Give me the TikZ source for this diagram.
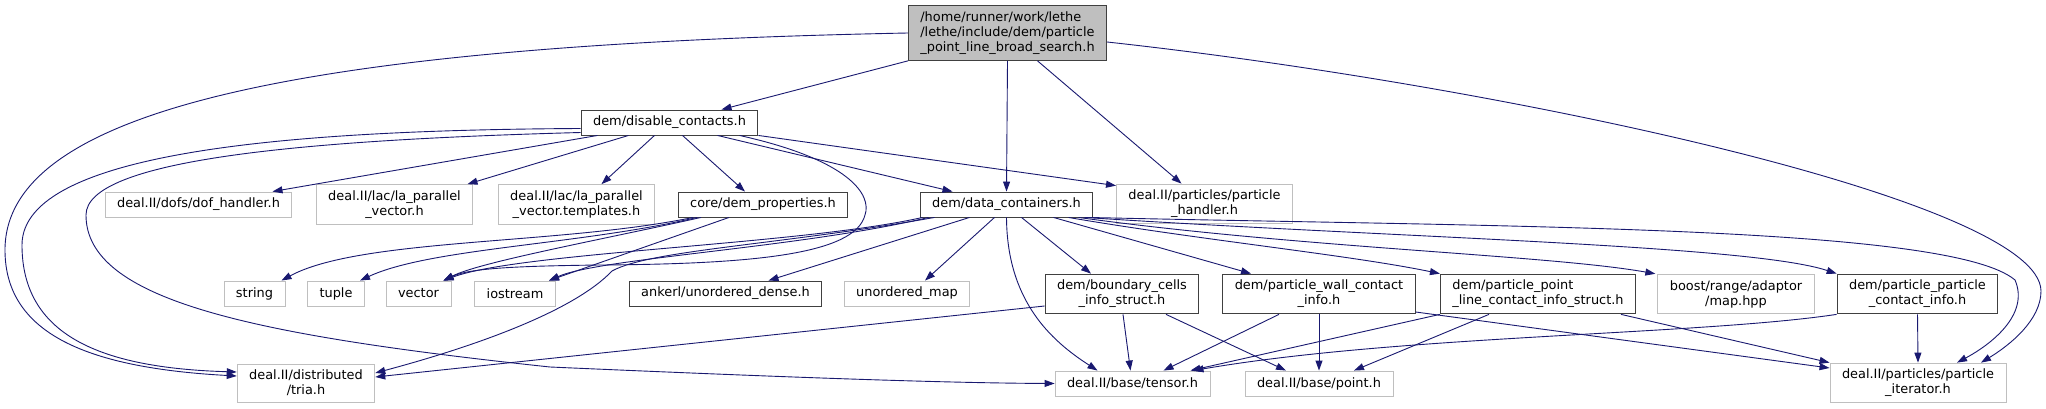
\documentclass[tikz,border=0pt]{standalone}
\usepackage{fontspec}
\setmainfont{DejaVu Sans}
\usetikzlibrary{arrows.meta}

\definecolor{edgeblue}{HTML}{191970}
\definecolor{incline}{HTML}{404040}
\definecolor{extline}{HTML}{BFBFBF}
\definecolor{rootfill}{HTML}{BFBFBF}

\begin{document}
\begin{tikzpicture}[
x=1pt, y=-1pt,
inc/.style={rectangle, draw=incline, fill=white, line width=0.9pt, align=center,
  font=\fontsize{12.9pt}{15pt}\selectfont, inner xsep=12pt, inner ysep=6pt, minimum height=25pt},
ext/.style={inc, draw=extline},
main/.style={inc, fill=rootfill, align=left},
incl/.style={draw=edgeblue, line width=0.9pt, -{Triangle[length=10pt,width=7pt]}}
]
\fill[white] (0,0) rectangle (2046,409);
\useasboundingbox (0,0) rectangle (2046,409);

% top
\node[main] (root) at (1007.5,33) {/home/runner/work/lethe\\/lethe/include/dem/particle\\\_point\_line\_broad\_search.h};
\node[inc] (disable) at (669.5,122.5) {dem/disable\_contacts.h};

% second row
\node[ext] (dofh) at (198.5,204.5) {deal.II/dofs/dof\_handler.h};
\node[ext] (lapv) at (394.5,204.5) {deal.II/lac/la\_parallel\\\_vector.h};
\node[ext] (lapvt) at (576.5,204.5) {deal.II/lac/la\_parallel\\\_vector.templates.h};
\node[inc] (demprop) at (763,204.5) {core/dem\_properties.h};
\node[inc] (datacont) at (1006.5,204.5) {dem/data\_containers.h};
\node[ext] (phandler) at (1204.5,204) {deal.II/particles/particle\\\_handler.h};

% third row
\node[ext] (string) at (254.5,293.5) {string};
\node[ext] (tuple) at (336,293.5) {tuple};
\node[ext] (vector) at (418.5,293.5) {vector};
\node[ext] (iostream) at (515,293.5) {iostream};
\node[inc] (ankerl) at (725.5,293.5) {ankerl/unordered\_dense.h};
\node[ext] (umap) at (907,293.5) {unordered\_map};
\node[inc] (bcells) at (1122,294) {dem/boundary\_cells\\\_info\_struct.h};
\node[inc] (pwall) at (1319,294) {dem/particle\_wall\_contact\\\_info.h};
\node[inc, align=left] (pline) at (1538,294) {dem/particle\_point\\\_line\_contact\_info\_struct.h};
\node[ext] (boostmap) at (1736,294) {boost/range/adaptor\\/map.hpp};
\node[inc] (ppart) at (1917.5,294) {dem/particle\_particle\\\_contact\_info.h};

% bottom row
\node[ext] (tria) at (306,383) {deal.II/distributed\\/tria.h};
\node[ext] (tensor) at (1132.5,383.5) {deal.II/base/tensor.h};
\node[ext] (point) at (1319,383.5) {deal.II/base/point.h};
\node[ext] (piter) at (1918,383) {deal.II/particles/particle\\\_iterator.h};

% from root
\draw[incl] (root.south west) -- ([xshift=52pt]disable.north);
\draw[incl] (root.south) -- (datacont.north);
\draw[incl] ([xshift=30pt]root.south) -- ([xshift=-23pt]phandler.north);
\draw[incl] (root.west) .. controls (300,45) and (5,110) .. (5,250) .. controls (5,335) and (90,368) .. ([yshift=7pt]tria.west);
\draw[incl] ([yshift=-9pt]root.east) .. controls (1500,85) and (2040,200) .. (2041,291) .. controls (2041,320) and (2010,345) .. ([xshift=63pt]piter.north);

% from disable_contacts
\draw[incl] ([yshift=-6pt]disable.west) .. controls (300,130) and (22,150) .. (22,245) .. controls (22,335) and (100,368) .. ([yshift=11pt]tria.west);
\draw[incl] ([yshift=-10pt]disable.west) .. controls (300,140) and (86,160) .. (86,215) .. controls (86,300) and (250,335) .. (550,367) .. controls (800,378) and (950,383) .. (tensor.west);
\draw[incl] ([xshift=-72pt]disable.south) -- ([xshift=74pt]dofh.north);
\draw[incl] ([xshift=-41pt]disable.south) -- ([xshift=73pt]lapv.north);
\draw[incl] ([xshift=-15pt]disable.south) -- ([xshift=25pt]lapvt.north);
\draw[incl] ([xshift=13pt]disable.south) -- ([xshift=-18pt]demprop.north);
\draw[incl] ([xshift=48pt]disable.south) -- ([xshift=-54pt]datacont.north);
\draw[incl] (disable.south east) -- ([yshift=-2pt]phandler.north west);
\draw[incl] ([xshift=70pt]disable.south) .. controls (850,160) and (872,195) .. (865,215) .. controls (855,255) and (750,264) .. (600,265) .. controls (520,266) and (470,268) .. ([xshift=25pt]vector.north);

% from dem_properties
\draw[incl] ([xshift=-70pt]demprop.south) .. controls (560,245) and (360,238) .. ([xshift=27pt]string.north);
\draw[incl] ([xshift=-66pt]demprop.south) .. controls (580,245) and (430,248) .. ([xshift=24pt]tuple.north);
\draw[incl] ([xshift=-62pt]demprop.south) .. controls (600,240) and (480,262) .. ([xshift=25pt]vector.north);
\draw[incl] ([xshift=-34pt]demprop.south) -- ([xshift=34pt]iostream.north);

% from data_containers
\draw[incl] ([xshift=-84pt]datacont.south) .. controls (800,245) and (520,252) .. ([xshift=25pt]vector.north);
\draw[incl] ([xshift=-78pt]datacont.south) .. controls (800,248) and (600,258) .. ([xshift=34pt]iostream.north);
\draw[incl] ([xshift=-72pt]datacont.south) .. controls (780,245) and (650,250) .. (612,271) .. controls (575,310) and (480,345) .. ([yshift=10pt]tria.east);
\draw[incl] ([xshift=-37pt]datacont.south) -- ([xshift=43pt]ankerl.north);
\draw[incl] ([xshift=-12pt]datacont.south) -- ([xshift=18pt]umap.north);
\draw[incl] (datacont.south) .. controls (1007,300) and (1050,340) .. ([xshift=-35pt]tensor.north);
\draw[incl] ([xshift=15pt]datacont.south) -- ([xshift=-31pt]bcells.north);
\draw[incl] ([xshift=47pt]datacont.south) -- ([xshift=-68pt]pwall.north);
\draw[incl] ([xshift=62pt]datacont.south) .. controls (1200,240) and (1350,255) .. (pline.north west);
\draw[incl] ([xshift=72pt]datacont.south) .. controls (1300,248) and (1550,255) .. ([xshift=-2pt]boostmap.north west);
\draw[incl] ([xshift=78pt]datacont.south) .. controls (1400,238) and (1750,245) .. (ppart.north west);
\draw[incl] ([xshift=82pt]datacont.south) .. controls (1500,227) and (1950,225) .. (2015,280) .. controls (2030,315) and (1990,345) .. ([xshift=39pt]piter.north);

% lower includes
\draw[incl] ([yshift=-12pt]bcells.west) -- ([yshift=6pt]tria.east);
\draw[incl] ([xshift=1pt]bcells.south) -- ([xshift=-2pt]tensor.north);
\draw[incl] ([xshift=44pt]bcells.south) -- ([xshift=-33pt]point.north);
\draw[incl] ([xshift=-40pt]pwall.south) -- ([xshift=31pt]tensor.north);
\draw[incl] (pwall.south) -- (point.north);
\draw[incl] ([yshift=-18pt]pwall.east) -- ([yshift=15pt]piter.west);
\draw[incl] (pline.south west) -- ([xshift=58pt]tensor.north);
\draw[incl] ([xshift=-49pt]pline.south) -- ([xshift=35pt]point.north);
\draw[incl] ([xshift=83pt]pline.south) -- (piter.north west);
\draw[incl] (ppart.south west) .. controls (1700,335) and (1400,335) .. ([xshift=61pt]tensor.north);
\draw[incl] (ppart.south) -- (piter.north);
\end{tikzpicture}
\end{document}
